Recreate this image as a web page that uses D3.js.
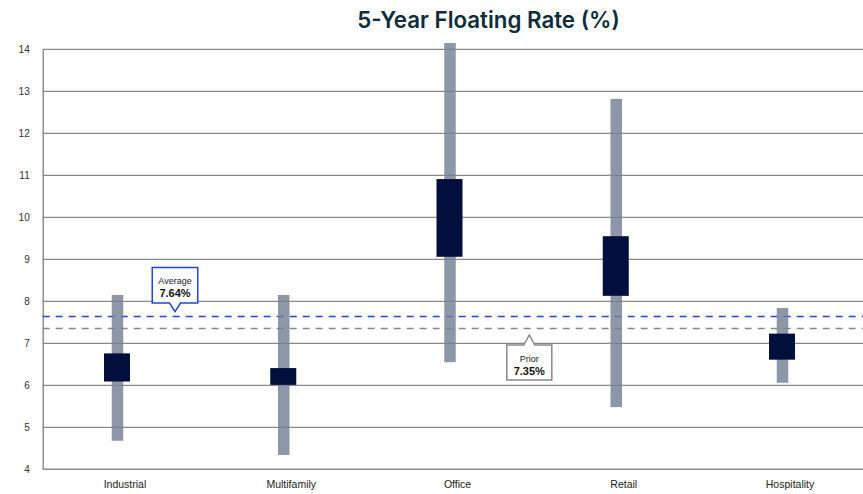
<!DOCTYPE html>
<html>
<head>
<meta charset="utf-8">
<script src="https://cdn.jsdelivr.net/npm/d3@7"></script>
<style>
  html, body { margin: 0; padding: 0; background: #fff; }
  svg { display: block; }
  text { font-family: "Liberation Sans", Arial, sans-serif; }
</style>
</head>
<body>
<svg id="chart" width="863" height="494"></svg>
<script>
// Property types along the x axis
const categories = ["Industrial", "Multifamily", "Office", "Retail", "Hospitality"];
// Full observed range per property type (low / high)
const rangeLow  = [4.68, 4.34, 6.55, 5.48, 6.06];
const rangeHigh = [8.15, 8.15, 14.15, 12.82, 7.84];
// Interquartile band per property type (low / high)
const boxLow  = [6.09, 6.01, 9.06, 8.13, 6.61];
const boxHigh = [6.76, 6.41, 10.91, 9.55, 7.23];
// Reference lines
const averageRate = 7.64;
const priorRate = 7.35;
// Y axis ticks
const yTicks = [4, 5, 6, 7, 8, 9, 10, 11, 12, 13, 14];

const svg = d3.select("#chart");
const plot = { left: 42.7, right: 863, top: 49.3, bottom: 469.3 };

const y = d3.scaleLinear().domain([4, 14]).range([plot.bottom, plot.top]);
const x = d3.scalePoint().domain(categories).range([117.5, 782.5]);

// Title
svg.append("text")
  .attr("x", 488.5).attr("y", 28)
  .attr("text-anchor", "middle")
  .style("font-family", "Inter, 'Open Sans', sans-serif")
  .style("font-weight", 600)
  .style("font-size", "22.3px")
  .style("fill", "#0f2c3a")
  .text("5-Year Floating Rate (%)");

// Horizontal gridlines and y axis
const yAxis = d3.axisLeft(y).tickValues(yTicks).tickSize(0).tickPadding(13)
  .tickFormat(d3.format("d"));
const gy = svg.append("g").attr("transform", `translate(${plot.left},0)`).call(yAxis);
gy.select(".domain").attr("stroke", "#777").attr("stroke-width", 1.2);
gy.selectAll(".tick text")
  .style("font-size", "10px").style("fill", "#333")
  .attr("dy", "0.35em");

svg.append("g").selectAll("line")
  .data(yTicks)
  .join("line")
  .attr("x1", plot.left).attr("x2", plot.right)
  .attr("y1", d => y(d)).attr("y2", d => y(d))
  .attr("stroke", "#8a8a8a")
  .attr("stroke-width", d => d === 4 ? 1.6 : 1.2);

// Category labels
svg.append("g").selectAll("text")
  .data(categories)
  .join("text")
  .attr("x", d => x(d) + 7.5)
  .attr("y", 488)
  .attr("text-anchor", "middle")
  .style("font-size", "10.5px")
  .style("fill", "#222")
  .text(d => d);

// Reference lines
svg.append("line")
  .attr("x1", plot.left).attr("x2", plot.right)
  .attr("y1", y(averageRate)).attr("y2", y(averageRate))
  .attr("stroke", "#1f45e6").attr("stroke-width", 1.5)
  .attr("stroke-dasharray", "7,6");
svg.append("line")
  .attr("x1", plot.left).attr("x2", plot.right)
  .attr("y1", y(priorRate)).attr("y2", y(priorRate))
  .attr("stroke", "#8a8a8a").attr("stroke-width", 1.5)
  .attr("stroke-dasharray", "7,6");

// Range bars (thin, translucent so gridlines show through)
const rangeW = 11.5;
svg.append("g").selectAll("rect")
  .data(categories)
  .join("rect")
  .attr("x", d => x(d) - rangeW / 2)
  .attr("width", rangeW)
  .attr("y", (d, i) => y(rangeHigh[i]))
  .attr("height", (d, i) => y(rangeLow[i]) - y(rangeHigh[i]))
  .attr("fill", "rgb(117,128,149)")
  .attr("fill-opacity", 0.82);

// Interquartile boxes
const boxW = 26;
svg.append("g").selectAll("rect")
  .data(categories)
  .join("rect")
  .attr("x", d => x(d) - boxW / 2 - 0.5)
  .attr("width", boxW)
  .attr("y", (d, i) => y(boxHigh[i]))
  .attr("height", (d, i) => y(boxLow[i]) - y(boxHigh[i]))
  .attr("fill", "#020f3d");

// Callout: box with a triangular pointer toward the reference line
function callout(cx, tipY, dir, bw, bh, ph, stroke, label, value) {
  // dir = 1: pointer below box, pointing down; dir = -1: pointer above, pointing up
  const pw = 5.5;
  const baseY = tipY - dir * ph;          // edge of box where the pointer starts
  const farY = baseY - dir * bh;          // opposite edge
  const l = cx - bw / 2, r = cx + bw / 2;
  const path = d3.path();
  path.moveTo(l, farY);
  path.lineTo(r, farY);
  path.lineTo(r, baseY);
  path.lineTo(cx + pw, baseY);
  path.lineTo(cx, tipY);
  path.lineTo(cx - pw, baseY);
  path.lineTo(l, baseY);
  path.closePath();
  const g = svg.append("g");
  g.append("path").attr("d", path.toString())
    .attr("fill", "#fff").attr("stroke", stroke).attr("stroke-width", 1.5)
    .attr("stroke-linejoin", "miter");
  const top = Math.min(baseY, farY);
  g.append("text").attr("x", cx).attr("y", top + 16.5)
    .attr("text-anchor", "middle")
    .style("font-size", "9px").style("fill", "#222").text(label);
  g.append("text").attr("x", cx).attr("y", top + 29.5)
    .attr("text-anchor", "middle")
    .style("font-size", "11px").style("font-weight", 700).style("fill", "#111").text(value);
}

const fmt = d => d.toFixed(2) + "%";
callout(175, y(averageRate) - 4.7, 1, 45.5, 35.5, 8.7, "#1f45e6", "Average", fmt(averageRate));
callout(529.3, y(priorRate) + 6.4, -1, 45, 35, 10, "#8a8a8a", "Prior", fmt(priorRate));
</script>
</body>
</html>
